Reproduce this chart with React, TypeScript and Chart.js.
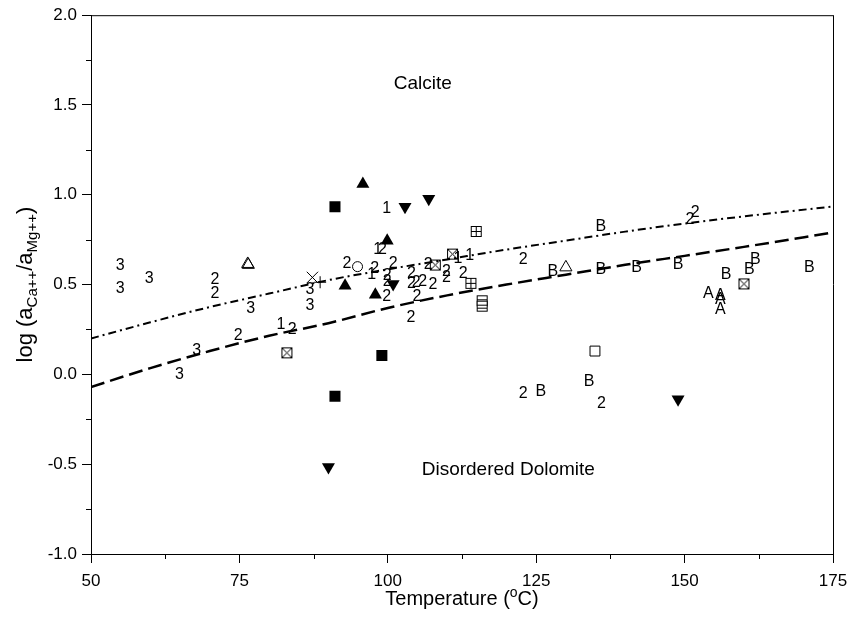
import { useEffect, useRef } from 'react';
import { Chart, registerables } from 'chart.js';

Chart.register(...registerables);

const FONT = '"Liberation Sans", Arial, Helvetica, sans-serif';

// Boundary curves (temperature, log activity ratio)
const lineT = [50, 60, 70, 80, 90, 100, 110, 120, 130, 140, 150, 160, 175];
const calciteBoundary = [0.2, 0.29, 0.375, 0.45, 0.525, 0.585, 0.64, 0.695, 0.745, 0.795, 0.84, 0.88, 0.935];
const dolomiteBoundary = [-0.07, 0.035, 0.13, 0.215, 0.285, 0.37, 0.44, 0.5, 0.555, 0.61, 0.66, 0.71, 0.79];

// Symbol series
const filledSquareT = [91.1, 91.1, 99.0];
const filledSquareV = [0.933, -0.122, 0.105];
const filledUpT = [95.8, 99.9, 92.8, 97.9];
const filledUpV = [1.06, 0.744, 0.494, 0.444];
const filledDownT = [102.9, 106.9, 100.9, 148.9, 90.0];
const filledDownV = [0.933, 0.978, 0.504, -0.139, -0.515];
const openSquareT = [134.9];
const openSquareV = [0.13];
const boxXT = [83.0, 108.0, 110.9, 160.0];
const boxXV = [0.12, 0.609, 0.67, 0.504];
const boxPlusT = [114.9, 114.0];
const boxPlusV = [0.796, 0.507];
const boxMinusT = [115.9, 115.9];
const boxMinusV = [0.41, 0.38];
const openUpT = [76.4, 76.5, 130.0];
const openUpV = [0.615, 0.61, 0.596];
const circleT = [94.9];
const circleV = [0.6];
const crossXT = [87.3];
const crossXV = [0.54];
const plusT = [88.6];
const plusV = [0.513];

// Numbered / lettered samples
const oneT = [82.0, 98.3, 99.8, 97.3, 111.8, 113.8];
const oneV = [0.283, 0.698, 0.93, 0.561, 0.65, 0.667];
const twoT = [70.9, 70.9, 74.8, 83.9, 93.1, 99.1, 100.9, 97.8, 99.9, 99.9, 99.8, 104.0, 104.0, 104.8, 105.9, 104.9, 103.9, 106.8, 107.6, 109.9, 109.9, 112.7, 122.8, 122.8, 136.0, 151.8, 150.9];
const twoV = [0.531, 0.457, 0.222, 0.256, 0.62, 0.698, 0.624, 0.594, 0.556, 0.522, 0.439, 0.568, 0.513, 0.518, 0.522, 0.439, 0.324, 0.619, 0.508, 0.578, 0.544, 0.568, 0.643, -0.104, -0.159, 0.907, 0.865];
const threeT = [54.9, 54.9, 59.8, 76.9, 86.9, 86.9, 67.8, 64.9];
const threeV = [0.609, 0.485, 0.537, 0.374, 0.476, 0.389, 0.137, 0.007];
const aT = [154.0, 156.0, 156.0, 156.0];
const aV = [0.457, 0.444, 0.422, 0.365];
const bT = [135.9, 127.8, 135.9, 141.9, 148.9, 157.0, 160.9, 161.9, 171.0, 125.8, 133.9];
const bV = [0.828, 0.578, 0.587, 0.6, 0.619, 0.563, 0.587, 0.643, 0.6, -0.089, -0.037];

// Field labels
const fieldLabels = ['Calcite', 'Disordered Dolomite'];
const fieldT = [105.9, 120.3];
const fieldV = [1.62, -0.533];

const xTicks = [50, 75, 100, 125, 150, 175];
const yTicks = [-1.0, -0.5, 0.0, 0.5, 1.0, 1.5, 2.0];

const pts = (t: number[], v: number[]) => t.map((x, i) => ({ x, y: v[i] }));

function boxGlyph(kind: string) {
  const c = document.createElement('canvas');
  c.width = 13;
  c.height = 13;
  const g = c.getContext('2d')!;
  g.fillStyle = '#fff';
  g.fillRect(1, 1, 11, 11);
  g.strokeStyle = '#000';
  g.lineWidth = 1;
  g.strokeRect(1.5, 1.5, 10, 10);
  g.beginPath();
  if (kind === 'x') {
    g.moveTo(1.5, 1.5); g.lineTo(11.5, 11.5);
    g.moveTo(11.5, 1.5); g.lineTo(1.5, 11.5);
  } else if (kind === 'plus') {
    g.moveTo(6.5, 1.5); g.lineTo(6.5, 11.5);
    g.moveTo(1.5, 6.5); g.lineTo(11.5, 6.5);
  } else if (kind === 'minus') {
    g.moveTo(1.5, 5.5); g.lineTo(11.5, 5.5);
    g.moveTo(1.5, 8.5); g.lineTo(11.5, 8.5);
  }
  g.stroke();
  return c;
}

const overlayPlugin = {
  id: 'overlay',
  afterDatasetsDraw(chart: any) {
    const ctx = chart.ctx;
    const { x, y } = chart.scales;
    ctx.save();
    // text glyph markers
    chart.data.datasets.forEach((ds: any, i: number) => {
      if (!ds.glyph) return;
      const meta = chart.getDatasetMeta(i);
      ctx.fillStyle = '#000';
      ctx.font = `16px ${FONT}`;
      ctx.textAlign = 'center';
      ctx.textBaseline = 'middle';
      meta.data.forEach((p: any) => ctx.fillText(ds.glyph, p.x, p.y + 1));
    });
    // field labels
    ctx.font = `19px ${FONT}`;
    fieldLabels.forEach((s, i) => {
      ctx.fillText(s, x.getPixelForValue(fieldT[i]), y.getPixelForValue(fieldV[i]));
    });
    ctx.restore();
  },
  afterDraw(chart: any) {
    const ctx = chart.ctx;
    const { left, right, top, bottom } = chart.chartArea;
    const { x, y } = chart.scales;
    ctx.save();
    ctx.strokeStyle = '#000';
    ctx.lineWidth = 1;
    ctx.beginPath();
    ctx.moveTo(left, top + 0.5);
    ctx.lineTo(right, top + 0.5);
    ctx.moveTo(right + 0.5, top);
    ctx.lineTo(right + 0.5, bottom);
    // minor ticks
    for (let i = 0; i < xTicks.length - 1; i++) {
      const px = Math.round(x.getPixelForValue((xTicks[i] + xTicks[i + 1]) / 2)) + 0.5;
      ctx.moveTo(px, bottom);
      ctx.lineTo(px, bottom + 5);
    }
    for (let i = 0; i < yTicks.length - 1; i++) {
      const py = Math.round(y.getPixelForValue((yTicks[i] + yTicks[i + 1]) / 2)) + 0.5;
      ctx.moveTo(left, py);
      ctx.lineTo(left - 5, py);
    }
    ctx.stroke();

    ctx.fillStyle = '#000';
    // x tick labels
    ctx.font = `17px ${FONT}`;
    ctx.textAlign = 'center';
    ctx.textBaseline = 'alphabetic';
    xTicks.forEach((t) => ctx.fillText(String(t), x.getPixelForValue(t), bottom + 32));

    // x title with superscript
    ctx.textAlign = 'left';
    const big = `20px ${FONT}`;
    const small = `14px ${FONT}`;
    const xParts = [
      { s: 'Temperature (', f: big, dy: 0 },
      { s: 'o', f: small, dy: -8 },
      { s: 'C)', f: big, dy: 0 },
    ];
    let w = 0;
    xParts.forEach((p) => { ctx.font = p.f; w += ctx.measureText(p.s).width; });
    let cx = (left + right) / 2 - w / 2;
    const baseX = 605;
    xParts.forEach((p) => {
      ctx.font = p.f;
      ctx.fillText(p.s, cx, baseX + p.dy);
      cx += ctx.measureText(p.s).width;
    });

    // y title with subscripts
    const yBig = `22px ${FONT}`;
    const ySmall = `15px ${FONT}`;
    const yParts = [
      { s: 'log (a', f: yBig, dy: 0 },
      { s: 'Ca++', f: ySmall, dy: 5 },
      { s: '/a', f: yBig, dy: 0 },
      { s: 'Mg++', f: ySmall, dy: 5 },
      { s: ')', f: yBig, dy: 0 },
    ];
    w = 0;
    yParts.forEach((p) => { ctx.font = p.f; w += ctx.measureText(p.s).width; });
    ctx.translate(32, (top + bottom) / 2);
    ctx.rotate(-Math.PI / 2);
    let cy = -w / 2;
    yParts.forEach((p) => {
      ctx.font = p.f;
      ctx.fillText(p.s, cy, p.dy);
      cy += ctx.measureText(p.s).width;
    });
    ctx.restore();
  },
};

export default function App() {
  const ref = useRef<HTMLCanvasElement>(null);

  useEffect(() => {
    const canvas = ref.current!;
    const glyphDs = (glyph: string, t: number[], v: number[]) => ({
      glyph,
      data: pts(t, v),
      pointRadius: 0,
      pointHoverRadius: 0,
    });
    const chart = new Chart(canvas, {
      type: 'scatter',
      data: {
        datasets: [
          {
            data: pts(lineT, calciteBoundary),
            showLine: true,
            pointRadius: 0,
            borderColor: '#000',
            borderWidth: 2,
            borderDash: [8, 4, 2, 4],
            cubicInterpolationMode: 'monotone',
          },
          {
            data: pts(lineT, dolomiteBoundary),
            showLine: true,
            pointRadius: 0,
            borderColor: '#000',
            borderWidth: 2.5,
            borderDash: [14, 6],
            cubicInterpolationMode: 'monotone',
          },
          { data: pts(filledSquareT, filledSquareV), pointStyle: 'rect', pointRadius: 7.8, backgroundColor: '#000', borderColor: '#000', borderWidth: 0 },
          { data: pts(filledUpT, filledUpV), pointStyle: 'triangle', pointRadius: 7.5, backgroundColor: '#000', borderColor: '#000', borderWidth: 0 },
          { data: pts(filledDownT, filledDownV), pointStyle: 'triangle', rotation: 180, pointRadius: 7.5, backgroundColor: '#000', borderColor: '#000', borderWidth: 0 },
          { data: pts(openSquareT, openSquareV), pointStyle: 'rect', pointRadius: 7, backgroundColor: '#fff', borderColor: '#000', borderWidth: 1 },
          { data: pts(boxXT, boxXV), pointStyle: boxGlyph('x') as any },
          { data: pts(boxPlusT, boxPlusV), pointStyle: boxGlyph('plus') as any },
          { data: pts(boxMinusT, boxMinusV), pointStyle: boxGlyph('minus') as any },
          { data: pts(openUpT, openUpV), pointStyle: 'triangle', pointRadius: 7, backgroundColor: 'rgba(255,255,255,0)', borderColor: '#000', borderWidth: 1 },
          { data: pts(circleT, circleV), pointStyle: 'circle', pointRadius: 5, backgroundColor: 'rgba(255,255,255,0)', borderColor: '#000', borderWidth: 1 },
          { data: pts(crossXT, crossXV), pointStyle: 'crossRot', pointRadius: 8, borderColor: '#000', borderWidth: 1 },
          { data: pts(plusT, plusV), pointStyle: 'cross', pointRadius: 6, borderColor: '#000', borderWidth: 1 },
          glyphDs('1', oneT, oneV),
          glyphDs('2', twoT, twoV),
          glyphDs('3', threeT, threeV),
          glyphDs('A', aT, aV),
          glyphDs('B', bT, bV),
        ] as any,
      },
      options: {
        animation: false,
        responsive: false,
        events: [],
        layout: { padding: { top: 14, right: 18, left: 0, bottom: 0 } },
        plugins: { legend: { display: false }, tooltip: { enabled: false } },
        scales: {
          x: {
            type: 'linear',
            min: 50,
            max: 175,
            afterBuildTicks: (s: any) => { s.ticks = xTicks.map((value) => ({ value })); },
            afterFit: (s: any) => { s.height = 70; },
            ticks: { display: false },
            grid: { drawOnChartArea: false, color: '#000', tickLength: 9 },
            border: { color: '#000', width: 1 },
          },
          y: {
            type: 'linear',
            min: -1,
            max: 2,
            afterBuildTicks: (s: any) => { s.ticks = yTicks.map((value) => ({ value })); },
            afterFit: (s: any) => { s.width = 91; },
            ticks: {
              color: '#000',
              font: { family: FONT, size: 17 },
              padding: 5,
              callback: (v: any) => Number(v).toFixed(1),
            },
            grid: { drawOnChartArea: false, color: '#000', tickLength: 9 },
            border: { color: '#000', width: 1 },
          },
        },
      } as any,
      plugins: [overlayPlugin],
    });
    return () => chart.destroy();
  }, []);

  return (
    <div style={{ position: 'fixed', left: 0, top: 0, width: 851, height: 624, background: '#fff' }}>
      <canvas ref={ref} width={851} height={624} style={{ display: 'block' }} />
    </div>
  );
}
